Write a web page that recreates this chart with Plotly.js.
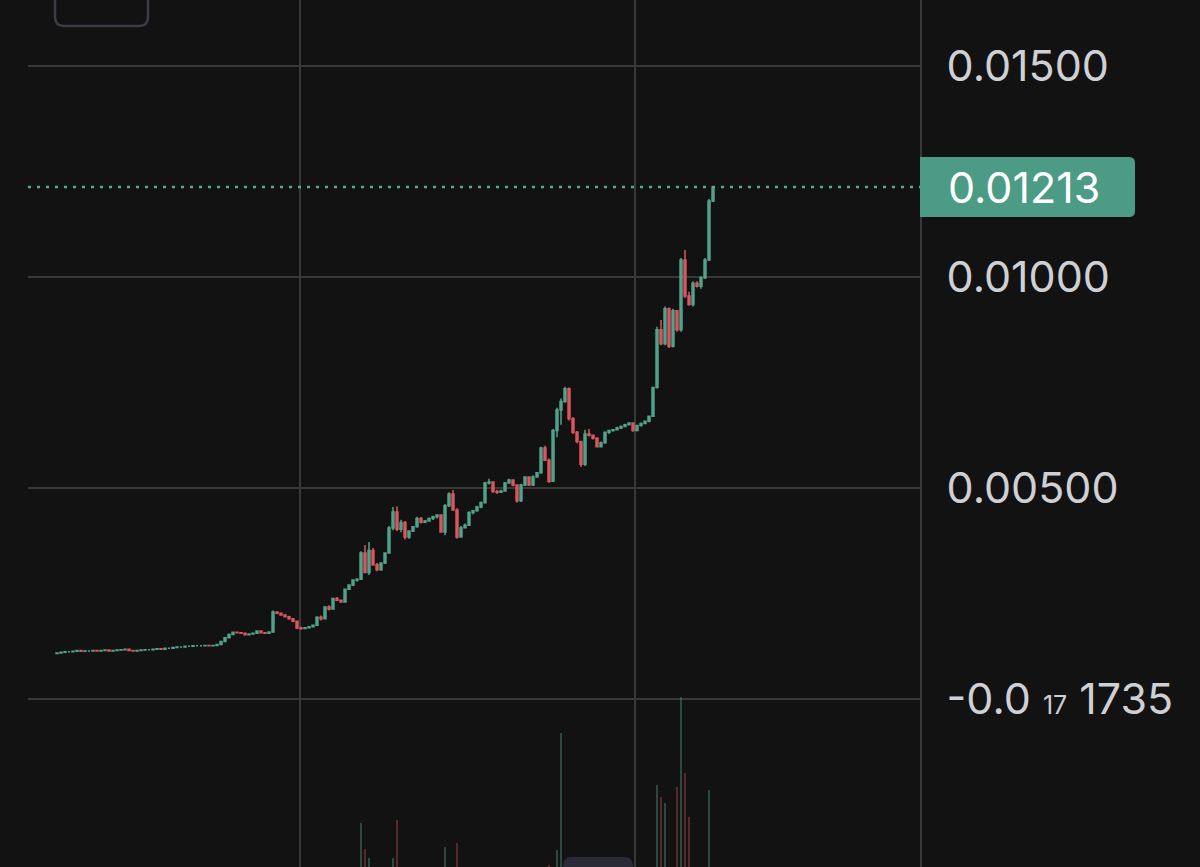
<!DOCTYPE html>
<html>
<head>
<meta charset="utf-8">
<script src="https://cdn.plot.ly/plotly-3.0.1.min.js"></script>
<style>
  html, body { margin: 0; padding: 0; background: #121212; }
  #chart { width: 1200px; height: 867px; }
</style>
</head>
<body>
<div id="chart"></div>
<script>
// ---- Price data (one candle per bar) ----
const open = [
0.00108,0.00109,0.00111,0.00112,0.00112,0.00113,0.00115,0.00113,0.00114,0.00114,
0.00115,0.00114,0.00115,0.00116,0.00114,0.00115,0.00116,0.00117,0.00118,0.00115,
0.00114,0.00115,0.00116,0.00117,0.00117,0.00118,0.00119,0.00118,0.00120,0.00120,
0.00122,0.00123,0.00123,0.00125,0.00125,0.00126,0.00126,0.00126,0.00127,0.00126,
0.00127,0.00129,0.00136,0.00145,0.00153,0.00158,0.00157,0.00156,0.00152,0.00154,
0.00156,0.00161,0.00157,0.00156,0.00159,0.00206,0.00203,0.00199,0.00195,0.00190,
0.00184,0.00168,0.00167,0.00169,0.00171,0.00175,0.00194,0.00190,0.00218,0.00213,
0.00238,0.00234,0.00230,0.00260,0.00270,0.00282,0.00284,0.00346,0.00300,0.00352,
0.00318,0.00306,0.00322,0.00346,0.00405,0.00443,0.00402,0.00418,0.00384,0.00398,
0.00408,0.00428,0.00419,0.00422,0.00428,0.00432,0.00436,0.00396,0.00458,0.00486,
0.00448,0.00384,0.00406,0.00412,0.00442,0.00446,0.00455,0.00465,0.00512,0.00514,
0.00492,0.00490,0.00493,0.00512,0.00519,0.00507,0.00470,0.00507,0.00526,0.00507,
0.00526,0.00536,0.00595,0.00566,0.00516,0.00636,0.00685,0.00705,0.00735,0.00664,
0.00632,0.00610,0.00556,0.00628,0.00625,0.00618,0.00598,0.00607,0.00632,0.00636,
0.00638,0.00642,0.00646,0.00650,0.00654,0.00636,0.00648,0.00653,0.00658,0.00670,
0.00738,0.00875,0.00842,0.00925,0.00836,0.00920,0.00875,0.01040,0.00955,0.00935,
0.00985,0.00978,0.00998,0.01040,0.01180];

const high = [
0.00110,0.00111,0.00112,0.00113,0.00114,0.00116,0.00116,0.00115,0.00115,0.00116,
0.00116,0.00116,0.00117,0.00117,0.00116,0.00117,0.00118,0.00119,0.00119,0.00117,
0.00116,0.00117,0.00118,0.00118,0.00119,0.00120,0.00120,0.00121,0.00121,0.00123,
0.00124,0.00124,0.00126,0.00126,0.00127,0.00127,0.00127,0.00128,0.00128,0.00128,
0.00130,0.00137,0.00146,0.00155,0.00160,0.00160,0.00158,0.00157,0.00155,0.00157,
0.00162,0.00162,0.00159,0.00160,0.00210,0.00208,0.00205,0.00200,0.00197,0.00192,
0.00186,0.00171,0.00170,0.00172,0.00176,0.00196,0.00198,0.00220,0.00222,0.00240,
0.00242,0.00236,0.00262,0.00272,0.00284,0.00286,0.00350,0.00365,0.00372,0.00358,
0.00322,0.00324,0.00348,0.00410,0.00455,0.00456,0.00425,0.00422,0.00400,0.00410,
0.00432,0.00431,0.00424,0.00430,0.00434,0.00438,0.00437,0.00462,0.00490,0.00495,
0.00452,0.00410,0.00416,0.00445,0.00448,0.00458,0.00468,0.00515,0.00522,0.00516,
0.00496,0.00496,0.00514,0.00522,0.00520,0.00509,0.00510,0.00528,0.00528,0.00530,
0.00538,0.00598,0.00600,0.00570,0.00640,0.00690,0.00712,0.00740,0.00738,0.00668,
0.00635,0.00612,0.00638,0.00640,0.00627,0.00620,0.00610,0.00634,0.00638,0.00640,
0.00645,0.00648,0.00652,0.00656,0.00655,0.00650,0.00655,0.00660,0.00672,0.00740,
0.00882,0.00898,0.00930,0.00928,0.00925,0.00922,0.01045,0.01064,0.00965,0.00990,
0.00990,0.01002,0.01045,0.01185,0.01213];

const low = [
0.00107,0.00108,0.00110,0.00111,0.00111,0.00112,0.00112,0.00112,0.00113,0.00113,
0.00113,0.00113,0.00114,0.00113,0.00113,0.00114,0.00115,0.00116,0.00114,0.00113,
0.00113,0.00114,0.00115,0.00116,0.00116,0.00117,0.00117,0.00117,0.00119,0.00119,
0.00121,0.00122,0.00122,0.00124,0.00124,0.00125,0.00125,0.00125,0.00125,0.00125,
0.00126,0.00128,0.00135,0.00144,0.00152,0.00156,0.00155,0.00151,0.00151,0.00153,
0.00155,0.00156,0.00155,0.00155,0.00158,0.00201,0.00197,0.00193,0.00188,0.00182,
0.00166,0.00164,0.00165,0.00168,0.00170,0.00174,0.00186,0.00189,0.00210,0.00212,
0.00232,0.00228,0.00229,0.00258,0.00268,0.00278,0.00282,0.00298,0.00294,0.00316,
0.00303,0.00304,0.00320,0.00344,0.00400,0.00398,0.00395,0.00378,0.00380,0.00396,
0.00406,0.00416,0.00417,0.00420,0.00424,0.00428,0.00394,0.00388,0.00455,0.00446,
0.00380,0.00382,0.00404,0.00410,0.00438,0.00444,0.00452,0.00463,0.00508,0.00488,
0.00486,0.00488,0.00491,0.00510,0.00504,0.00465,0.00467,0.00505,0.00505,0.00505,
0.00524,0.00534,0.00564,0.00512,0.00514,0.00620,0.00650,0.00702,0.00660,0.00628,
0.00606,0.00550,0.00552,0.00622,0.00615,0.00596,0.00596,0.00605,0.00628,0.00633,
0.00636,0.00640,0.00644,0.00648,0.00633,0.00634,0.00646,0.00651,0.00656,0.00668,
0.00736,0.00838,0.00838,0.00832,0.00833,0.00870,0.00870,0.00950,0.00932,0.00930,
0.00975,0.00972,0.00995,0.01038,0.01178];

const close = [
0.00109,0.00111,0.00112,0.00112,0.00113,0.00115,0.00113,0.00114,0.00114,0.00115,
0.00114,0.00115,0.00116,0.00114,0.00115,0.00116,0.00117,0.00118,0.00115,0.00114,
0.00115,0.00116,0.00117,0.00117,0.00118,0.00119,0.00118,0.00120,0.00120,0.00122,
0.00123,0.00123,0.00125,0.00125,0.00126,0.00126,0.00126,0.00127,0.00126,0.00127,
0.00129,0.00136,0.00145,0.00153,0.00158,0.00157,0.00156,0.00152,0.00154,0.00156,
0.00161,0.00157,0.00156,0.00159,0.00206,0.00203,0.00199,0.00195,0.00190,0.00184,
0.00168,0.00167,0.00169,0.00171,0.00175,0.00194,0.00190,0.00218,0.00213,0.00238,
0.00234,0.00230,0.00260,0.00270,0.00282,0.00284,0.00346,0.00300,0.00352,0.00318,
0.00306,0.00322,0.00346,0.00405,0.00443,0.00402,0.00418,0.00384,0.00398,0.00408,
0.00428,0.00419,0.00422,0.00428,0.00432,0.00436,0.00396,0.00458,0.00486,0.00448,
0.00384,0.00406,0.00412,0.00442,0.00446,0.00455,0.00465,0.00512,0.00514,0.00492,
0.00490,0.00493,0.00512,0.00519,0.00507,0.00470,0.00507,0.00526,0.00507,0.00526,
0.00536,0.00595,0.00566,0.00516,0.00636,0.00685,0.00705,0.00735,0.00664,0.00632,
0.00610,0.00556,0.00628,0.00625,0.00618,0.00598,0.00607,0.00632,0.00636,0.00638,
0.00642,0.00646,0.00650,0.00654,0.00636,0.00648,0.00653,0.00658,0.00670,0.00738,
0.00875,0.00842,0.00925,0.00836,0.00920,0.00875,0.01040,0.00955,0.00935,0.00985,
0.00978,0.00998,0.01040,0.01180,0.01213];

// ---- Volume (relative units) ----
const volume = [
0,0,0,0,0,0,0,0,0,0,
0,0,0,0,0,0,0,0,0,0,
0,0,0,0,0,0,0,0,0,0,
0,0,0,0,0,0,0,0,0,0,
0,0,0,0,0,0,0,0,0,0,
0,0,0,0,0,0,0,0,0,0,
0,0,0,0,0,0,0,0,0,0,
0,0,0,0,0,0,44,18,9,0,
0,0,0,0,9,47,0,0,0,0,
0,0,0,0,0,0,0,20,0,0,
24,0,0,0,0,0,0,0,0,0,
0,0,0,0,0,0,0,0,0,0,
0,0,0,2,0,17,134,0,0,0,
0,0,0,0,0,0,0,0,0,0,
0,0,0,0,0,0,0,0,0,0,
82,70,64,0,0,80,170,94,50,0,
0,0,0,77,0];

// ---- Axis ticks ----
const priceTicks = [0, 0.005, 0.010, 0.015];
const priceTickText = ['-0.0 <span style="font-size:25px">17</span> 1735', '0.00500', '0.01000', '0.01500'];
const timeGrid = [60.75, 144.5];

const UP = '#52a38c';
const DOWN = '#dc5660';
const FONT = 'Inter, Roboto, sans-serif';
const t = open.map((_, i) => i);
const lastPrice = close[close.length - 1];

const volColors = close.map((c, i) => c >= open[i] ? 'rgba(82,163,140,0.55)' : 'rgba(220,86,96,0.5)');

const traces = [
  {
    type: 'bar', x: t, y: volume, yaxis: 'y2', width: 0.35,
    marker: { color: volColors, line: { width: 0 } },
    hoverinfo: 'skip', showlegend: false
  },
  {
    type: 'candlestick', x: t, open: open, high: high, low: low, close: close,
    increasing: { line: { color: UP, width: 1.5 }, fillcolor: UP },
    decreasing: { line: { color: DOWN, width: 1.5 }, fillcolor: DOWN },
    whiskerwidth: 0, showlegend: false
  }
];

const W = 1200, H = 867;
const GRID = '#383838';

function roundRect(w, h, r) {
  const x0 = -w / 2, x1 = w / 2, y0 = -h / 2, y1 = h / 2;
  return `M${x0 + r},${y0} L${x1 - r},${y0} Q${x1},${y0} ${x1},${y0 + r} ` +
         `L${x1},${y1 - r} Q${x1},${y1} ${x1 - r},${y1} L${x0 + r},${y1} ` +
         `Q${x0},${y1} ${x0},${y1 - r} L${x0},${y0 + r} Q${x0},${y0} ${x0 + r},${y0} Z`;
}

const layout = {
  width: W, height: H,
  margin: { l: 0, r: 0, t: 0, b: 0 },
  paper_bgcolor: '#121212', plot_bgcolor: '#121212',
  boxgap: 0.3,
  showlegend: false,
  xaxis: {
    domain: [28 / W, 920 / W],
    range: [-7.25, 215.75],
    rangeslider: { visible: false },
    tickvals: timeGrid, showticklabels: false, ticks: '',
    showgrid: true, gridcolor: GRID, gridwidth: 2,
    zeroline: false, showline: false, fixedrange: true
  },
  yaxis: {
    domain: [0, 1],
    range: [-168 * 0.005 / 211, 699 * 0.005 / 211],
    side: 'right',
    tickvals: priceTicks, ticktext: priceTickText,
    ticks: '', ticklabelstandoff: 16,
    tickfont: { family: FONT, size: 43, color: '#cfd0d4' },
    showgrid: true, gridcolor: GRID, gridwidth: 2,
    zeroline: false, showline: true, linecolor: GRID, linewidth: 2
  },
  yaxis2: {
    overlaying: 'y', domain: [0, 1], range: [0, 867],
    showgrid: false, showticklabels: false, zeroline: false, showline: false, ticks: ''
  },
  shapes: [
    // last price dotted line
    {
      type: 'line', xref: 'paper', yref: 'y',
      x0: 28 / W, x1: 920 / W, y0: lastPrice, y1: lastPrice,
      line: { color: '#5aa893', width: 2.5, dash: '3px,6px' }
    },
    // last price label box
    {
      type: 'path', xref: 'paper', yref: 'y',
      xsizemode: 'pixel', ysizemode: 'pixel',
      xanchor: 920 / W, yanchor: lastPrice,
      path: `M0,-30 L209,-30 Q215,-30 215,-24 L215,24 Q215,30 209,30 L0,30 Z`,
      fillcolor: '#4b9b85', line: { width: 0 }, layer: 'above'
    },
    // top-left button outline
    {
      type: 'path', xref: 'paper', yref: 'paper',
      xsizemode: 'pixel', ysizemode: 'pixel',
      xanchor: 101.5 / W, yanchor: 1 - 1 / H,
      path: roundRect(93, 50, 9),
      fillcolor: 'rgba(0,0,0,0)', line: { color: '#3c3c47', width: 2.5 }
    },
    // bottom handle
    {
      type: 'path', xref: 'paper', yref: 'paper',
      xsizemode: 'pixel', ysizemode: 'pixel',
      xanchor: 598 / W, yanchor: 1 - 877 / H,
      path: roundRect(70, 40, 9),
      fillcolor: '#2b2b38', line: { width: 0 }, layer: 'above'
    }
  ],
  annotations: [
    {
      xref: 'paper', yref: 'y', x: 946 / W, y: lastPrice,
      xanchor: 'left', yanchor: 'middle', showarrow: false,
      text: lastPrice.toFixed(5),
      font: { family: FONT, size: 43, color: '#ffffff' }
    }
  ]
};

Plotly.newPlot('chart', traces, layout, { displayModeBar: false, staticPlot: true });
</script>
</body>
</html>
